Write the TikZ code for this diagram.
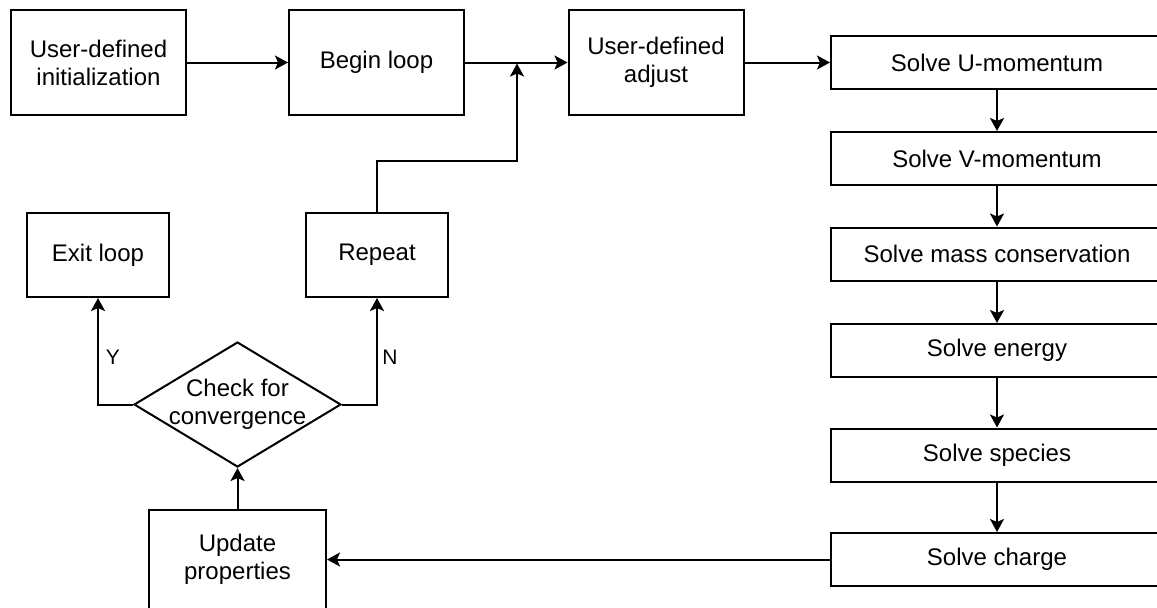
\documentclass[tikz,border=0pt]{standalone}
\usepackage{fontspec}
\setmainfont{Liberation Sans}
\usetikzlibrary{arrows.meta, shapes.geometric}

\begin{document}
\begin{tikzpicture}[x = 0.5pt, y = -0.5pt,
  box/.style = {draw, black, line width = 1pt, align = center, inner sep = 0pt, font = \fontsize{12}{14}\selectfont},
  topbox/.style = {box, minimum width = 87.5pt, minimum height = 52.5pt},
  stepbox/.style = {box, minimum width = 166pt, minimum height = 26.5pt},
  endbox/.style = {box, minimum width = 71pt, minimum height = 42pt},
  decision/.style = {diamond, draw, black, line width = 1pt, inner sep = 0pt, minimum width = 103.5pt, minimum height = 62.5pt},
  arr/.style = {black, line width = 1pt, -{Stealth[length = 6.5pt, width = 7pt, inset = 1.5pt]}},
  yn/.style = {font = \fontsize{10.5}{12}\selectfont}]

\useasboundingbox (0, 0) rectangle (1157, 607);
\clip (0, 0) rectangle (1157, 607);

% top row
\node (init) at (98.5, 62.5) [topbox]{User-defined\\initialization};
\node (begin) at (376.5, 62.5) [topbox]{Begin loop};
\node (adjust) at (656, 62.5) [topbox]{User-defined\\adjust};

% solver column
\node (umom) at (997, 62.5) [stepbox]{Solve U-momentum};
\node (vmom) at (997, 158.5) [stepbox]{Solve V-momentum};
\node (mass) at (997, 254) [stepbox]{Solve mass conservation};
\node (energy) at (997, 350.5) [stepbox]{Solve energy};
\node (species) at (997, 455) [stepbox]{Solve species};
\node (charge) at (997, 559.5) [stepbox]{Solve charge};

% convergence part
\node (exit) at (98, 255) [endbox]{Exit loop};
\node (repeat) at (377, 255) [endbox]{Repeat};
\node (check) at (237.5, 404.5) [decision]{};
\node (checktext) at (check) [align = center, font = \fontsize{12}{14}\selectfont]{Check for\\convergence};
\node (update) at (237.5, 559.5) [box, minimum width = 88.5pt, minimum height = 50pt]{Update\\properties};

\node (ylabel) at (113, 357) [yn]{Y};
\node (nlabel) at (390, 357) [yn]{N};

\coordinate (join) at (517, 63.5);
\coordinate (bend) at (517, 161);

\draw[arr] (init) -- (begin);
\draw[arr] (begin) -- (adjust);
\draw[arr] (adjust) -- (umom);

\draw[arr] (umom) -- (vmom);
\draw[arr] (vmom) -- (mass);
\draw[arr] (mass) -- (energy);
\draw[arr] (energy) -- (species);
\draw[arr] (species) -- (charge);
\draw[arr] (charge) -- (update);

\draw[arr] (update) -- (check);
\draw[arr] (check.west) -| (exit);
\draw[arr] (check.east) -| (repeat);
\draw[arr] (repeat.north) |- (bend) -- (join);

\end{tikzpicture}
\end{document}
